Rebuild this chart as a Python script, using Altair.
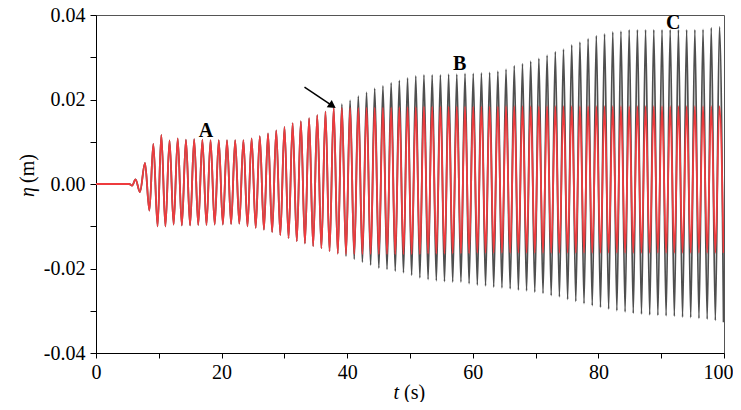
import altair as alt
import pandas as pd

# ---------------- data ----------------
# quiet start and first small wiggles (shared by both records)
T_EARLY = [0.0, 5.3, 5.75, 6.3, 7.0, 7.8, 8.5, 9.13, 9.8]
V_EARLY = [0.0, 0.0, -0.0004, 0.0011, -0.0019, 0.0050, -0.0063, 0.0095, -0.0100]

# times of successive crests / troughs (crest first), seconds
EXT_T = [
    10.40, 11.05, 11.71, 12.36, 13.01, 13.67, 14.32, 14.98, 15.63, 16.28,
    16.94, 17.59, 18.24, 18.90, 19.55, 20.20, 20.86, 21.51, 22.16, 22.82,
    23.47, 24.12, 24.78, 25.43, 26.08, 26.74, 27.39, 28.05, 28.70, 29.35,
    30.01, 30.66, 31.31, 31.97, 32.62, 33.27, 33.93, 34.58, 35.23, 35.89,
    36.54, 37.19, 37.85, 38.50, 39.15, 39.81, 40.46, 41.12, 41.77, 42.42,
    43.08, 43.73, 44.38, 45.04, 45.69, 46.34, 47.00, 47.65, 48.30, 48.96,
    49.61, 50.26, 50.92, 51.57, 52.22, 52.88, 53.53, 54.19, 54.84, 55.49,
    56.15, 56.80, 57.45, 58.11, 58.76, 59.41, 60.07, 60.72, 61.37, 62.03,
    62.68, 63.33, 63.99, 64.64, 65.29, 65.95, 66.60, 67.26, 67.91, 68.56,
    69.22, 69.87, 70.52, 71.18, 71.83, 72.48, 73.14, 73.79, 74.44, 75.10,
    75.75, 76.40, 77.06, 77.71, 78.36, 79.02, 79.67, 80.33, 80.98, 81.63,
    82.29, 82.94, 83.59, 84.25, 84.90, 85.55, 86.21, 86.86, 87.51, 88.17,
    88.82, 89.47, 90.13, 90.78, 91.43, 92.09, 92.74, 93.40, 94.05, 94.70,
    95.36, 96.01, 96.66, 97.32, 97.97, 98.62, 99.28, 99.93,
]

# grey record: crest and trough values (m)
GRAY_PEAKS = [
    0.0116, 0.0103, 0.0108, 0.0105, 0.0106, 0.0105, 0.0104, 0.0104, 0.0104, 0.0104,
    0.0104, 0.0108, 0.0113, 0.0120, 0.0127, 0.0135, 0.0144, 0.0149, 0.0156, 0.0163,
    0.0171, 0.0180,
    0.0189, 0.0198, 0.0208, 0.0217, 0.0226, 0.0232, 0.0239, 0.0245, 0.0251, 0.0256,
    0.0258, 0.0258, 0.0258, 0.0260, 0.0260, 0.0262, 0.0262, 0.0263, 0.0264, 0.0267,
    0.0272, 0.0280, 0.0285, 0.0291, 0.0297, 0.0305, 0.0313, 0.0319, 0.0329, 0.0336,
    0.0344, 0.0351, 0.0355, 0.0360, 0.0362, 0.0365, 0.0365, 0.0365, 0.0365, 0.0365,
    0.0365, 0.0365, 0.0365, 0.0365, 0.0366, 0.0370, 0.0372,
]
GRAY_TROUGHS = [
    -0.0100, -0.0096, -0.0098, -0.0098, -0.0097, -0.0097, -0.0096, -0.0096, -0.0095, -0.0094,
    -0.0100, -0.0104, -0.0108, -0.0114, -0.0121, -0.0128, -0.0136, -0.0141, -0.0147, -0.0152,
    -0.0159, -0.0165,
    -0.0171, -0.0178, -0.0185, -0.0192, -0.0199, -0.0202, -0.0206, -0.0210, -0.0216, -0.0222,
    -0.0226, -0.0229, -0.0231, -0.0232, -0.0232, -0.0236, -0.0239, -0.0241, -0.0244, -0.0246,
    -0.0248, -0.0251, -0.0253, -0.0256, -0.0259, -0.0264, -0.0267, -0.0273, -0.0278, -0.0283,
    -0.0288, -0.0292, -0.0296, -0.0300, -0.0303, -0.0306, -0.0308, -0.0310, -0.0311, -0.0312,
    -0.0313, -0.0315, -0.0316, -0.0318, -0.0320, -0.0323, -0.0327,
]
# red record: identical to the grey one up to t = 38.5 s, then saturates
SHARED_CYCLES = 22
RED_PEAKS_TAIL = [
    0.0180, 0.0180, 0.0180, 0.0181, 0.0181, 0.0181, 0.0181, 0.0182, 0.0182, 0.0182,
    0.0183, 0.0183, 0.0183, 0.0183, 0.0183, 0.0183, 0.0183, 0.0183, 0.0183, 0.0183,
    0.0184, 0.0184, 0.0184, 0.0184, 0.0184, 0.0184, 0.0184, 0.0184, 0.0184, 0.0184,
    0.0184, 0.0184, 0.0184, 0.0184, 0.0184, 0.0184, 0.0184, 0.0184, 0.0184, 0.0184,
    0.0184, 0.0184, 0.0184, 0.0184, 0.0184, 0.0184, 0.0184,
]
RED_TROUGHS_TAIL = [
    -0.0166, -0.0166, -0.0166, -0.0166, -0.0166, -0.0166, -0.0166, -0.0166, -0.0166, -0.0166,
    -0.0165, -0.0165, -0.0165, -0.0164, -0.0164, -0.0164, -0.0163, -0.0163, -0.0163, -0.0163,
    -0.0163, -0.0163, -0.0163, -0.0163, -0.0163, -0.0163, -0.0163, -0.0163, -0.0163, -0.0163,
    -0.0163, -0.0163, -0.0163, -0.0163, -0.0163, -0.0163, -0.0163, -0.0163, -0.0163, -0.0163,
    -0.0163, -0.0163, -0.0163, -0.0163, -0.0163, -0.0163, -0.0163,
]

X_TICKS = [0, 10, 20, 30, 40, 50, 60, 70, 80, 90, 100]
Y_TICKS = [-0.04, -0.03, -0.02, -0.01, 0.0, 0.01, 0.02, 0.03, 0.04]

LABELS = ["A", "B", "C"]
LABEL_T = [17.5, 57.9, 91.9]
LABEL_ETA = [0.0126, 0.0284, 0.0382]

ARROW_T = [33.2]
ARROW_ETA = [0.0229]
ARROW_T2 = [37.6]
ARROW_ETA2 = [0.01855]
HEAD_T = [37.65]
HEAD_ETA = [0.01852]

GRAY = "#4f4f4f"
RED = "#ee3b3e"
FONT = "'Liberation Serif', 'Times New Roman', Times, serif"


def interleave(peaks, troughs):
    out = []
    for k in range(len(EXT_T)):
        out.append(peaks[k // 2] if k % 2 == 0 else troughs[k // 2])
    return out


times = T_EARLY + EXT_T
gray_vals = V_EARLY + interleave(GRAY_PEAKS, GRAY_TROUGHS)
red_vals = V_EARLY + interleave(
    GRAY_PEAKS[:SHARED_CYCLES] + RED_PEAKS_TAIL,
    GRAY_TROUGHS[:SHARED_CYCLES] + RED_TROUGHS_TAIL,
)

df_gray = pd.DataFrame({"t": times, "eta": gray_vals})
df_red = pd.DataFrame({"t": times, "eta": red_vals})
df_lab = pd.DataFrame({"label": LABELS, "t": LABEL_T, "eta": LABEL_ETA})
df_arrow = pd.DataFrame({"t": ARROW_T, "eta": ARROW_ETA, "t2": ARROW_T2, "eta2": ARROW_ETA2})
df_head = pd.DataFrame({"t": HEAD_T, "eta": HEAD_ETA})

x_scale = alt.Scale(domain=[0, 100], nice=False, zero=False)
y_scale = alt.Scale(domain=[-0.04, 0.04], nice=False, zero=False)

x_axis = alt.Axis(
    values=X_TICKS,
    labelExpr="datum.value % 20 == 0 ? datum.label : ''",
    labelAlign=alt.ConditionalAxisLabelAlign(
        condition={"test": "datum.value == 100", "value": "right"}, value="center"
    ),
    labelOffset=alt.ConditionalAxisNumber(
        condition={"test": "datum.value == 100", "value": 9}, value=0
    ),
    title=None, grid=False, tickSize=5, labelPadding=4,
)
y_axis = alt.Axis(
    values=Y_TICKS,
    labelExpr="abs(round(datum.value * 100)) % 2 == 0 ? replace(format(datum.value, '.2f'), '\u2212', '-') : ''",
    title=None, grid=False, tickSize=6, labelPadding=5,
)

X = alt.X("t:Q", scale=x_scale, axis=x_axis)
Y = alt.Y("eta:Q", scale=y_scale, axis=y_axis)

gray_line = alt.Chart(df_gray).mark_line(
    color=GRAY, strokeWidth=1.8, interpolate="monotone", clip=True
).encode(x=X, y=Y, order="t:Q")

red_line = alt.Chart(df_red).mark_line(
    color=RED, strokeWidth=1.8, interpolate="monotone", clip=True
).encode(x="t:Q", y="eta:Q", order="t:Q")

labels = alt.Chart(df_lab).mark_text(
    font=FONT, fontSize=20, fontWeight="bold", color="black", baseline="middle", align="center"
).encode(x="t:Q", y="eta:Q", text="label:N")

arrow = alt.Chart(df_arrow).mark_rule(color="black", strokeWidth=1.5).encode(
    x="t:Q", y="eta:Q", x2="t2:Q", y2="eta2:Q"
)
head = alt.Chart(df_head).mark_point(
    shape="triangle-right", angle=34, filled=True, color="black", size=80, opacity=1
).encode(x="t:Q", y="eta:Q")

title_df = pd.DataFrame({"dummy": [0]})
eta_t = alt.Chart(title_df).mark_text(
    text="\u03b7", font=FONT, fontSize=20, fontStyle="italic", angle=270,
    align="right", baseline="middle", color="black"
).encode(x=alt.value(-68), y=alt.value(172))
eta_u = alt.Chart(title_df).mark_text(
    text="(m)", font=FONT, fontSize=20, angle=270,
    align="left", baseline="middle", color="black"
).encode(x=alt.value(-68), y=alt.value(168))
t_t = alt.Chart(title_df).mark_text(
    text="t", font=FONT, fontSize=20, fontStyle="italic",
    align="right", baseline="middle", color="black"
).encode(x=alt.value(303), y=alt.value(378))
t_u = alt.Chart(title_df).mark_text(
    text="(s)", font=FONT, fontSize=20,
    align="left", baseline="middle", color="black"
).encode(x=alt.value(308), y=alt.value(378))

chart = alt.layer(
    gray_line, red_line, labels, arrow, head, eta_t, eta_u, t_t, t_u
).properties(
    width=628, height=338,
    autosize=alt.AutoSizeParams(type="none"),
    padding={"left": 88, "top": 7, "right": 9, "bottom": 49},
).configure_view(
    stroke="#555555", strokeWidth=1
).configure_axis(
    domainColor="black", tickColor="black", labelColor="black",
    labelFont=FONT, labelFontSize=20, domainWidth=1, tickWidth=1,
    labelFlush=False,
)

chart.save("out.html", embed_options={"renderer": "svg", "actions": False})
